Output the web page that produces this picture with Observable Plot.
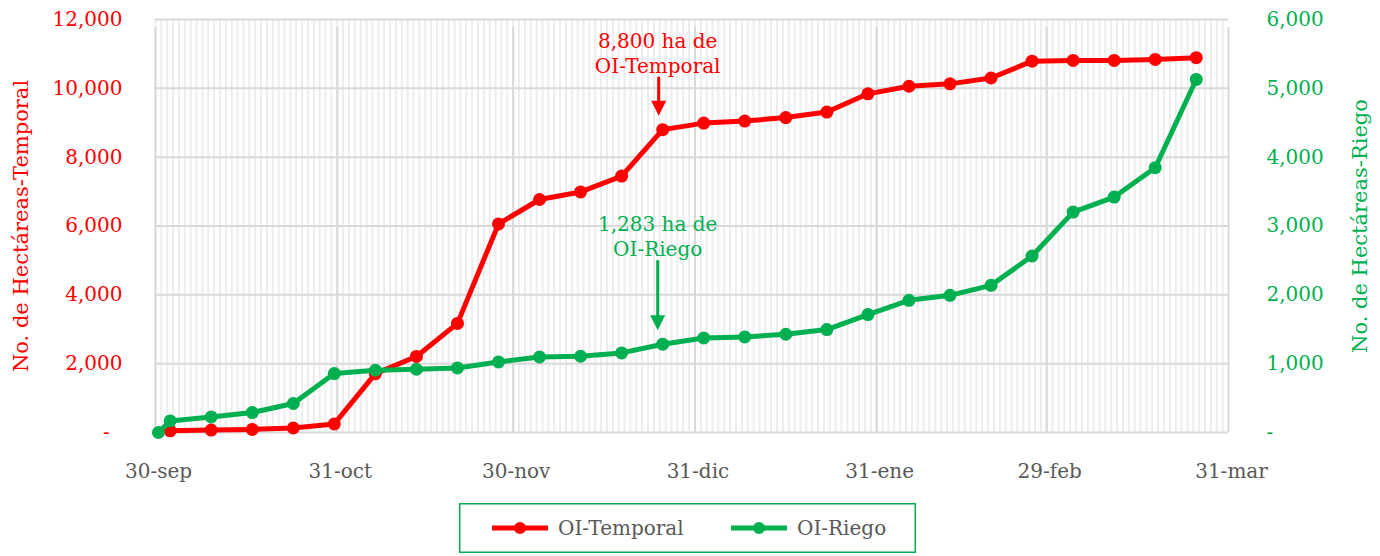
<!DOCTYPE html>
<html><head><meta charset="utf-8">
<script src="https://cdn.jsdelivr.net/npm/d3@7"></script>
<script src="https://cdn.jsdelivr.net/npm/@observablehq/plot@0.6"></script>
<style>
html,body{margin:0;padding:0;background:#fff;}
body{position:relative;width:1380px;height:556px;font-family:"DejaVu Serif",serif;}
#chart{position:absolute;left:0;top:0;}
#legend{position:absolute;left:459px;top:503px;}
</style></head><body>
<div id="chart"></div>
<div id="legend"></div>
<script>
// ---- data ----
const fechas = ["2023-09-30","2023-10-02","2023-10-09","2023-10-16","2023-10-23","2023-10-30","2023-11-06","2023-11-13","2023-11-20","2023-11-27","2023-12-04","2023-12-11","2023-12-18","2023-12-25","2024-01-01","2024-01-08","2024-01-15","2024-01-22","2024-01-29","2024-02-05","2024-02-12","2024-02-19","2024-02-26","2024-03-04","2024-03-11","2024-03-18","2024-03-25"];
const temporal = [null,50,70,90,130,250,1710,2210,3170,6060,6770,6990,7450,8800,8990,9050,9150,9310,9840,10060,10130,10300,10790,10810,10810,10840,10890];
const riego = [0,168,226,290,421,856,904,919,938,1025,1097,1108,1156,1283,1373,1388,1427,1495,1713,1920,1993,2138,2564,3202,3420,3847,5129];
const ticksFechas = ["2023-09-30","2023-10-31","2023-11-30","2023-12-31","2024-01-31","2024-02-29","2024-03-31"];
const ticksEtiquetas = ["30-sep","31-oct","30-nov","31-dic","31-ene","29-feb","31-mar"];
const ticksIzq = [0,2000,4000,6000,8000,10000,12000];
const ticksDer = [0,1000,2000,3000,4000,5000,6000];
const series = ["OI-Temporal","OI-Riego"];
const colores = ["#ff0000","#00b050"];
const anotFechas = ["2023-12-25","2023-12-25"];
const anotValores = [8800,1283];
const anotTextos = ["8,800 ha de\nOI-Temporal","1,283 ha de\nOI-Riego"];
const titulos = ["No. de Hectáreas-Temporal","No. de Hectáreas-Riego"];

// ---- build ----
const RED = colores[0], GREEN = colores[1];
const ratio = ticksIzq[ticksIzq.length-1] / ticksDer[ticksDer.length-1];
const pDay = d3.utcParse("%Y-%m-%d");
const mid = s => d3.utcHour.offset(pDay(s), 12);
const rows = fechas.map((f,i)=>({fecha: mid(f), temporal: temporal[i], riego: riego[i]}));
const mayor = ticksFechas.map(pDay);
const xDomain = [mayor[0], mayor[mayor.length-1]];
const dias = d3.utcDay.range(xDomain[0], xDomain[1]);
const fmt = d3.format(",");

const anot = anotFechas.map((f,i)=>({fecha: mid(f), y: i===0 ? anotValores[i] : anotValores[i]*ratio, texto: anotTextos[i], color: colores[i]}));
const shaft = {draw(ctx, l){ ctx.moveTo(0,0); ctx.lineTo(0,-l); }};
const head = {draw(ctx){ ctx.moveTo(-7.5,-15); ctx.lineTo(7.5,-15); ctx.lineTo(0,0); ctx.closePath(); }};
const anotCfg = [{textDy:-57, shaftDy:-27, len:25, dx:-4}, {textDy:-88, shaftDy:-26, len:57, dx:-5}];
const anotMarks = anot.flatMap((a,i)=>[
  Plot.text([a], {x:"fecha", y:"y", text:"texto", fill:a.color, fontSize:20, lineAnchor:"bottom", lineHeight:1.25, dy:anotCfg[i].textDy, dx:-5}),
  Plot.vector([a], {x:"fecha", y:"y", length:anotCfg[i].len, anchor:"start", shape:shaft, stroke:a.color, strokeWidth:3, dy:anotCfg[i].shaftDy, dx:anotCfg[i].dx}),
  Plot.dot([a], {x:"fecha", y:"y", symbol:head, r:6, fill:a.color, stroke:"none", dy:-14, dx:anotCfg[i].dx})
]);

const chart = Plot.plot({
  width:1380, height:500,
  marginLeft:155, marginRight:152, marginTop:19, marginBottom:68,
  style:{fontFamily:'"DejaVu Serif", serif', background:"#fff", overflow:"visible"},
  x:{type:"utc", domain:xDomain},
  y:{domain:[0, ticksIzq[ticksIzq.length-1]]},
  marks:[
    Plot.ruleX(dias, {stroke:"#ededed", strokeWidth:2}),
    Plot.ruleY(ticksIzq, {stroke:"#d9d9d9", strokeWidth:2}),
    Plot.ruleX(mayor, {y1:0, y2:ticksIzq[ticksIzq.length-1], stroke:"#d9d9d9", strokeWidth:2, insetBottom:-8}),
    Plot.axisX({ticks:mayor, tickFormat:(d,i)=>ticksEtiquetas[i], tickSize:0, tickPadding:31, fontSize:20, fill:"#595959", dx:3, label:null}),
    Plot.axisY({anchor:"left", ticks:ticksIzq, tickFormat:d=>d===0?"-\u2007":fmt(d), tickSize:0, tickPadding:33, fontSize:20, fill:RED, label:null}),
    Plot.axisY({anchor:"right", ticks:ticksIzq, tickFormat:d=>d===0?"-":fmt(d/ratio), tickSize:0, tickPadding:38, fontSize:20, fill:GREEN, label:null}),
    Plot.text([titulos[0]], {frameAnchor:"left", textAnchor:"middle", dx:-134, rotate:-90, fontSize:21, fill:RED}),
    Plot.text([titulos[1]], {frameAnchor:"right", textAnchor:"middle", dx:132, rotate:-90, fontSize:21, fill:GREEN}),
    Plot.line(rows.filter(d=>d.temporal!=null), {x:"fecha", y:"temporal", stroke:RED, strokeWidth:5}),
    Plot.dot(rows.filter(d=>d.temporal!=null), {x:"fecha", y:"temporal", r:6.5, fill:RED}),
    Plot.line(rows, {x:"fecha", y:d=>d.riego*ratio, stroke:GREEN, strokeWidth:5}),
    Plot.dot(rows, {x:"fecha", y:d=>d.riego*ratio, r:6.5, fill:GREEN}),
    ...anotMarks
  ]
});
document.getElementById("chart").appendChild(chart);

// legend (below the chart)
const lw = 457, lh = 50;
const lsvg = d3.select("#legend").append("svg").attr("width", lw).attr("height", lh)
  .style("font-family", '"DejaVu Serif", serif').style("display","block");
lsvg.append("rect").attr("x",0.75).attr("y",0.75).attr("width",lw-1.5).attr("height",lh-1.5)
  .attr("fill","#fff").attr("stroke",GREEN).attr("stroke-width",1.5);
const itemX = [33, 272];
series.forEach((s,i)=>{
  const g = lsvg.append("g").attr("transform",`translate(${itemX[i]},${lh/2})`);
  g.append("line").attr("x1",0).attr("x2",56).attr("stroke",colores[i]).attr("stroke-width",5);
  g.append("circle").attr("cx",28).attr("r",6).attr("fill",colores[i]);
  g.append("text").attr("x",66).attr("dy","0.35em").attr("font-size",20).attr("fill","#595959").text(s);
});
</script>
</body></html>
